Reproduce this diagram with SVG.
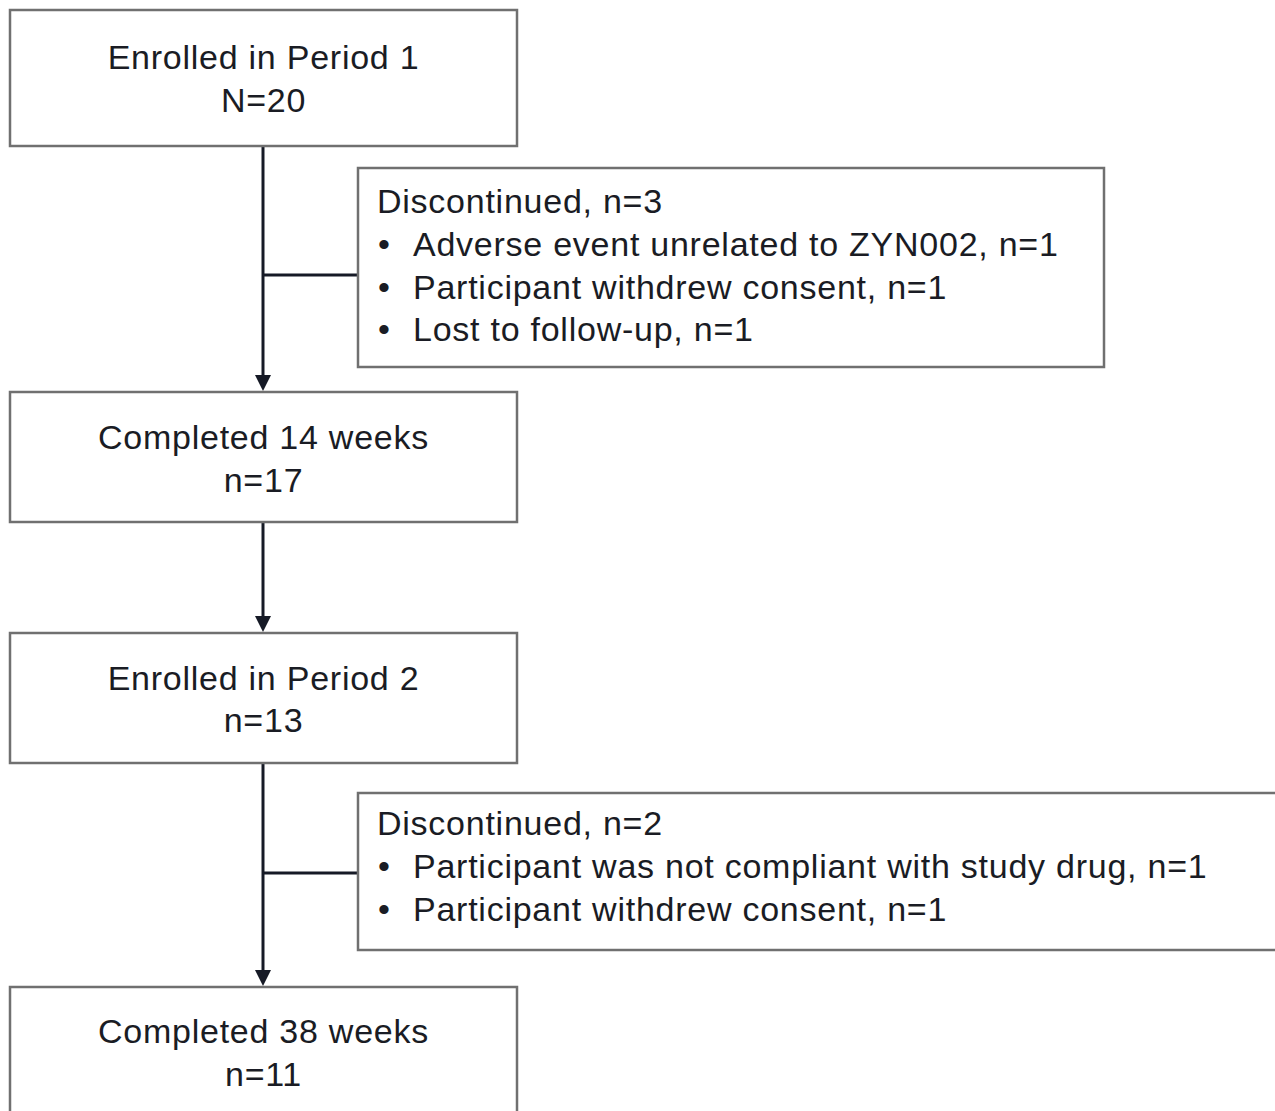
<svg xmlns="http://www.w3.org/2000/svg" width="1275" height="1111" viewBox="0 0 1275 1111">
<style>
.box{fill:#fff;stroke:#707070;stroke-width:2.5}
text{font-family:"Liberation Sans",Arial,sans-serif;font-size:34px;fill:#1a1c24;letter-spacing:0.75px}
.c{text-anchor:middle}
.ln{stroke:#161a26;stroke-width:3;fill:none}
.ah{fill:#161a26}
</style>
<rect width="1275" height="1111" fill="#fff"/>
<g id="connectors">
<line class="ln" x1="263" y1="146" x2="263" y2="376"/>
<path class="ah" d="M255,375 L271,375 L263,391 Z"/>
<line class="ln" x1="263" y1="275" x2="358" y2="275"/>
<line class="ln" x1="263" y1="522" x2="263" y2="617"/>
<path class="ah" d="M255,616 L271,616 L263,632 Z"/>
<line class="ln" x1="263" y1="763" x2="263" y2="971"/>
<path class="ah" d="M255,970 L271,970 L263,986 Z"/>
<line class="ln" x1="263" y1="873" x2="358" y2="873"/>
</g>
<g id="enrolled1">
<rect class="box" x="10" y="10" width="507" height="136"/>
<text class="c" x="263.5" y="69">Enrolled in Period 1</text>
<text class="c" x="263.5" y="112">N=20</text>
</g>
<g id="disc1">
<rect class="box" x="358" y="168" width="746" height="199"/>
<text x="377" y="213">Discontinued, n=3</text>
<text x="378" y="256">•</text><text x="413" y="256">Adverse event unrelated to ZYN002, n=1</text>
<text x="378" y="299">•</text><text x="413" y="299">Participant withdrew consent, n=1</text>
<text x="378" y="341">•</text><text x="413" y="341">Lost to follow-up, n=1</text>
</g>
<g id="completed14">
<rect class="box" x="10" y="392" width="507" height="130"/>
<text class="c" x="263.5" y="449">Completed 14 weeks</text>
<text class="c" x="263.5" y="492">n=17</text>
</g>
<g id="enrolled2">
<rect class="box" x="10" y="633" width="507" height="130"/>
<text class="c" x="263.5" y="690">Enrolled in Period 2</text>
<text class="c" x="263.5" y="732">n=13</text>
</g>
<g id="disc2">
<rect class="box" x="358" y="793" width="930" height="157"/>
<text x="377" y="835">Discontinued, n=2</text>
<text x="378" y="878">•</text><text x="413" y="878">Participant was not compliant with study drug, n=1</text>
<text x="378" y="921">•</text><text x="413" y="921">Participant withdrew consent, n=1</text>
</g>
<g id="completed38">
<rect class="box" x="10" y="987" width="507" height="140"/>
<text class="c" x="263.5" y="1043">Completed 38 weeks</text>
<text class="c" x="263.5" y="1086">n=11</text>
</g>
</svg>
